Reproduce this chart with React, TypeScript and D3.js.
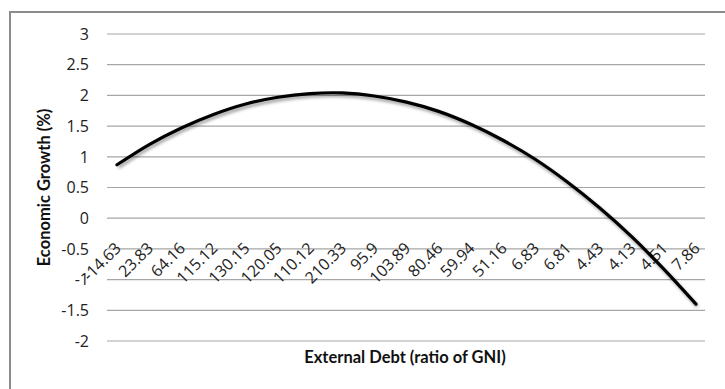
import React from "react";
import * as d3 from "d3";

const categories = ["-14.63","23.83","64.16","115.12","130.15","120.05","110.12","210.33","95.9","103.89","80.46","59.94","51.16","6.83","6.81","4.43","4.13","4.51","7.86"];
const growth = [0.87,1.20,1.47,1.69,1.86,1.97,2.03,2.04,1.99,1.89,1.74,1.53,1.27,0.96,0.59,0.17,-0.30,-0.83,-1.40];
const yTicks = [3,2.5,2,1.5,1,0.5,0,-0.5,-1,-1.5,-2];

const W = 725, H = 389;
const FONT = "'Open Sans', sans-serif";
const TFONT = "Lato, 'Open Sans', sans-serif";

export default function App() {
  const x = d3.scalePoint<string>().domain(categories).range([117, 696]);
  const y = d3.scaleLinear().domain([-2, 3]).range([341, 34]);
  const gridX0 = 107, gridX1 = 705;
  const line = d3.line<number>()
    .x((_, i) => x(categories[i]) as number)
    .y((d) => y(d))
    .curve(d3.curveCatmullRom.alpha(0.5));
  const path = line(growth) || "";
  return (
    <svg width={W} height={H} style={{ position: "absolute", left: 0, top: 0, background: "#fff" }}>
      <defs>
        <filter id="sh" x="-5%" y="-5%" width="110%" height="120%">
          <feGaussianBlur stdDeviation="1.5" />
        </filter>
      </defs>
      <rect x={10} y={12} width={W + 10} height={H + 10} fill="#fff" stroke="#8c8c8c" strokeWidth={2} />
      {yTicks.map((t) => (
        <g key={t}>
          <line x1={gridX0} x2={gridX1} y1={y(t)} y2={y(t)} stroke="#a6a6a6" strokeWidth={1.2} />
          <text x={89} y={y(t)} dy="0.36em" textAnchor="end" fontFamily={FONT} fontSize={16} fill="#222">{t}</text>
        </g>
      ))}
      {categories.map((c) => (
        <text key={c} transform={`translate(${(x(c) as number) + 5},${y(0) + 31}) rotate(-45)`} textAnchor="end" fontFamily={FONT} fontSize={16} fill="#222">{c}</text>
      ))}
      <path d={path} fill="none" stroke="#000" strokeOpacity={0.35} strokeWidth={3.5} transform="translate(1.5,2.5)" filter="url(#sh)" />
      <path d={path} fill="none" stroke="#000" strokeWidth={3.2} strokeLinecap="round" />
      <text x={405} y={363} textAnchor="middle" fontFamily={TFONT} fontSize={16.5} fontWeight="bold" fill="#111">External Debt (ratio of GNI)</text>
      <text transform={`translate(50,${(y(3) + y(-2)) / 2}) rotate(-90)`} textAnchor="middle" fontFamily={TFONT} fontSize={16.5} fontWeight="bold" fill="#111">Economic Growth (%)</text>
    </svg>
  );
}
